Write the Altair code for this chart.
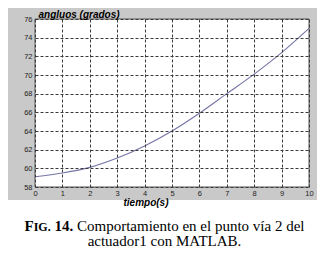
import altair as alt
import pandas as pd

# data
tiempo = [0, 1, 2, 3, 4, 5, 6, 7, 8, 9, 10]
angulos = [59.1, 59.5, 60.1, 61.1, 62.4, 64.0, 65.9, 68.0, 70.1, 72.4, 75.0]
x_ticks = [0, 1, 2, 3, 4, 5, 6, 7, 8, 9, 10]
y_ticks = [58, 60, 62, 64, 66, 68, 70, 72, 74, 76]

df = pd.DataFrame({"t": tiempo, "a": angulos})
one = alt.Data(values=[{}])

W, H = 274, 168

panel = alt.Chart(one).mark_rect(fill="#c9c9c9").encode(
    x=alt.value(-27), x2=alt.value(282), y=alt.value(-11), y2=alt.value(181)
)
plotbg = alt.Chart(one).mark_rect(fill="white", stroke="#555555", strokeWidth=1).encode(
    x=alt.value(0), x2=alt.value(W), y=alt.value(0), y2=alt.value(H)
)

line = alt.Chart(df).mark_line(color="#7474a6", strokeWidth=1.1, interpolate="monotone").encode(
    x=alt.X("t:Q", scale=alt.Scale(domain=[0, 10], nice=False),
            axis=alt.Axis(values=x_ticks, title="tiempo(s)", grid=True, ticks=False, domain=False,
                          zindex=1,
                          labelFlush=False, labelOverlap=False, labelPadding=2,
                          titleX=110.5, titleY=18, titleAnchor="start", titleAlign="center",
                          titleBaseline="alphabetic", titleFontSize=10,
                          titleFontStyle="italic", titleFontWeight="bold")),
    y=alt.Y("a:Q", scale=alt.Scale(domain=[58, 76], nice=False, zero=False),
            axis=alt.Axis(values=y_ticks, title="angluos (grados)", grid=True, ticks=False, domain=False,
                          zindex=1,
                          labelFlush=False, labelOverlap=False, labelPadding=3,
                          titleAngle=0, titleX=3, titleY=-1.5, titleAlign="left",
                          titleBaseline="alphabetic", titleFontSize=10,
                          titleFontStyle="italic", titleFontWeight="bold")),
)

serif = "Liberation Serif"
def txt(s, x, y, size, weight="normal"):
    return alt.Chart(one).mark_text(text=s, font=serif, fontSize=size, fontWeight=weight,
                                    align="left", baseline="alphabetic", color="black").encode(
        x=alt.value(x), y=alt.value(y))

x0 = 24.5 - 35
y1 = 231 - 19
y2 = 246 - 19
cap = [
    txt("F", x0, y1, 15, "bold"),
    txt("IG.", x0 + 9.2, y1, 12, "bold"),
    txt("14.", x0 + 30.0, y1, 15, "bold"),
    txt("Comportamiento en el punto vía 2 del", x0 + 52.5, y1, 15),
    alt.Chart(one).mark_text(text="actuador1 con MATLAB.", font=serif, fontSize=15,
                             align="center", baseline="alphabetic", color="black").encode(
        x=alt.value(164.5 - 35), y=alt.value(y2)),
]

chart = alt.layer(panel, plotbg, line, *cap).properties(
    width=W, height=H,
    padding={"left": 27, "top": 11, "right": 13, "bottom": 62},
    autosize=alt.AutoSizeParams(type="none"),
    background="white",
).configure_view(stroke=None).configure_axis(
    gridColor="#3a3a3a", gridDash=[3, 2], gridWidth=1, gridOpacity=1,
    labelFont="Liberation Sans", labelFontSize=7.5, labelColor="#222222",
    titleFont="Liberation Sans", titleColor="black",
)

chart.save("out.html", embed_options={"renderer": "svg", "actions": False})
